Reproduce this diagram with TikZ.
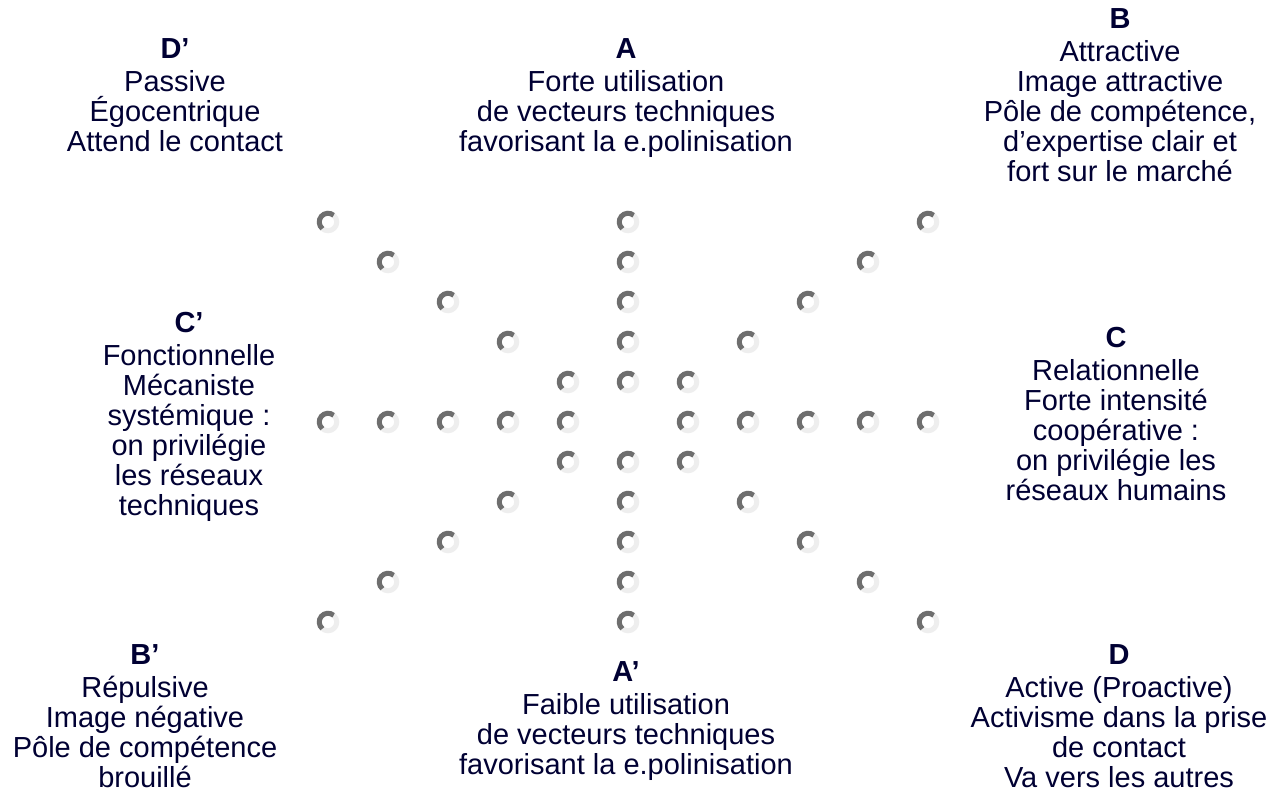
\documentclass[tikz,border=0pt]{standalone}
\usepackage{fontspec}
\setmainfont{Liberation Sans}
\definecolor{txt}{HTML}{000033}
\definecolor{ringdark}{HTML}{6E6E6E}
\definecolor{ringlight}{HTML}{EEEEEE}
\newcommand{\lblfont}{\fontsize{29}{30}\selectfont}
\tikzset{
  lbl/.style={text=txt, align=center, anchor=north, inner sep=0pt,
    font=\lblfont},
  spinner/.pic={
    \draw[line width=5pt, ringlight] (0,0) circle (8.75pt);
    \draw[line width=5pt, ringdark] (50:8.75pt) arc (50:230:8.75pt);
  }
}
\begin{document}
\lineskiplimit=-100pt
\begin{tikzpicture}[x=1pt,y=1pt]
\useasboundingbox[fill=white] (0,0) rectangle (1281,-794);
% spinner dots
\foreach \k in {1,...,5}{
  \foreach \dx/\dy in {1/0,-1/0,0/1,0/-1,1/1,1/-1,-1/1,-1/-1}{
    \pic at ({628+60*\k*\dx},{-422+40*\k*\dy}) {spinner};
  }
}
% labels
\node[lbl] (Dp) at (175,-38) {\textbf{D’}\\[3pt]Passive\\Égocentrique\\Attend le contact};
\node[lbl] (A) at (626,-38) {\textbf{A}\\[3pt]Forte utilisation\\de vecteurs techniques\\favorisant la e.polinisation};
\node[lbl] (B) at (1120,-8) {\textbf{B}\\[3pt]Attractive\\Image attractive\\Pôle de compétence,\\d’expertise clair et\\fort sur le marché};
\node[lbl] (Cp) at (189,-312) {\textbf{C’}\\[3pt]Fonctionnelle\\Mécaniste\\systémique :\\on privilégie\\les réseaux\\techniques};
\node[lbl] (C) at (1116,-327) {\textbf{C}\\[3pt]Relationnelle\\Forte intensité\\coopérative :\\on privilégie les\\réseaux humains};
\node[lbl] (Bp) at (145,-644) {\textbf{B’}\\[3pt]Répulsive\\Image négative\\Pôle de compétence\\brouillé};
\node[lbl] (Ap) at (626,-661) {\textbf{A’}\\[3pt]Faible utilisation\\de vecteurs techniques\\favorisant la e.polinisation};
\node[lbl] (D) at (1119,-644) {\textbf{D}\\[3pt]Active (Proactive)\\Activisme dans la prise\\de contact\\Va vers les autres};
\end{tikzpicture}
\end{document}
